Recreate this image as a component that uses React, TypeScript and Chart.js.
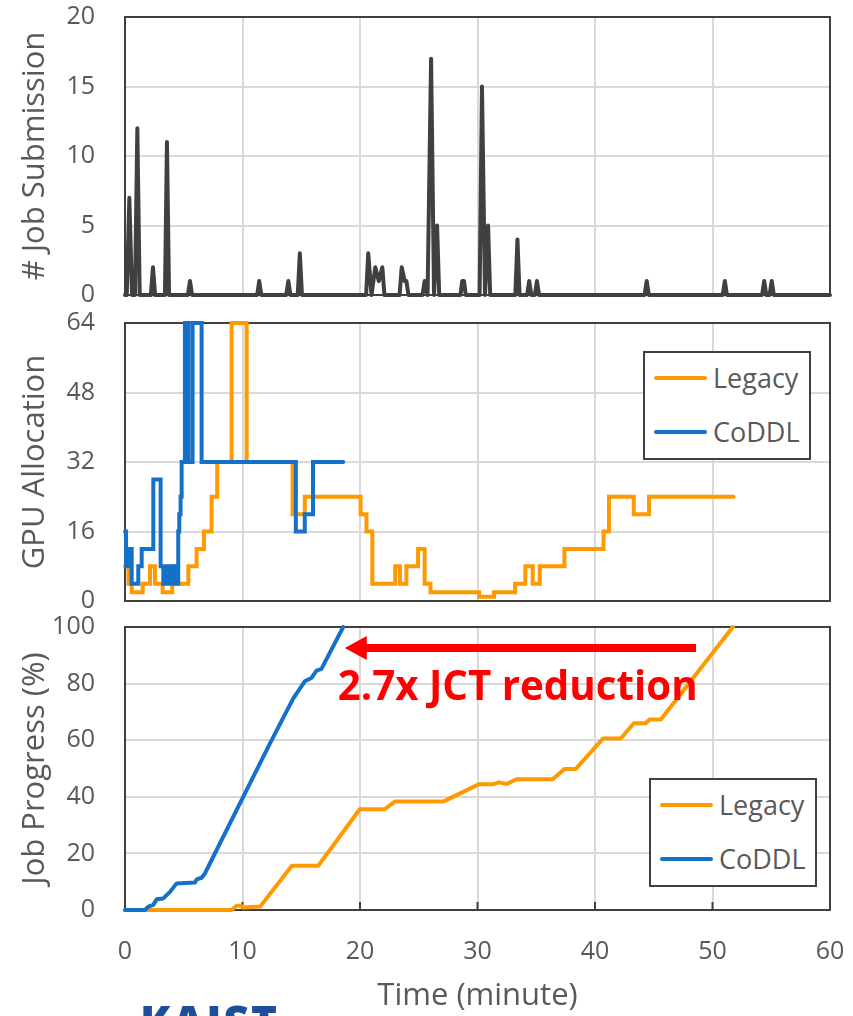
import React, { useEffect, useRef } from "react";
import { Chart, registerables } from "chart.js";

Chart.register(...registerables);

// ---------------- data ----------------
const xMin = 0;
const xMax = 60;
const xStep = 10;

const submissionTime = [
  0, 0.15, 0.37, 0.6, 0.85, 1.05, 1.25, 2.2, 2.38, 2.56, 3.4, 3.57, 3.75, 5.35, 5.53, 5.71,
  11.25, 11.42, 11.6, 13.72, 13.9, 14.08, 14.7, 14.88, 15.06, 20.52, 20.7, 20.98, 21.3, 21.6,
  21.9, 22.08, 23.37, 23.55, 23.8, 23.95, 24.12, 25.32, 25.5, 25.75, 26.05, 26.3, 26.56, 26.74,
  28.55, 28.7, 28.85, 29.0, 30.18, 30.38, 30.64, 30.9, 31.08, 33.22, 33.4, 33.58, 34.22, 34.4,
  34.58, 34.88, 35.06, 35.24, 44.22, 44.4, 44.58, 50.87, 51.05, 51.23, 54.22, 54.4, 54.58,
  54.86, 55.04, 55.22, 60,
];
const submissionCount = [
  0, 0, 7, 0, 0, 12, 0, 0, 2, 0, 0, 11, 0, 0, 1, 0,
  0, 1, 0, 0, 1, 0, 0, 3, 0, 0, 3, 0, 2, 1,
  2, 0, 0, 2, 1, 1, 0, 0, 1, 0, 17, 0, 5, 0,
  0, 1, 1, 0, 0, 15, 0, 5, 0, 0, 4, 0, 0, 1,
  0, 0, 1, 0, 0, 1, 0, 0, 1, 0, 0, 1, 0,
  0, 1, 0, 0,
];

const gpuLegacyTime = [
  0, 0.3, 0.57, 1.5, 2.13, 2.55, 3.2, 4.02, 4.4, 5.39, 6.09, 6.72, 7.37, 7.85, 9.07, 10.35,
  14.26, 15.3, 20.05, 20.55, 21.05, 23.0, 23.4, 23.95, 24.94, 25.5, 26.0, 30.13, 31.4, 33.2,
  34.07, 34.7, 35.3, 37.4, 40.73, 41.19, 43.3, 44.6, 51.8,
];
const gpuLegacyValue = [
  8, 4, 2, 4, 8, 4, 2, 8, 4, 8, 12, 16, 24, 32, 64, 32,
  20, 24, 20, 16, 4, 8, 4, 8, 12, 4, 2, 1, 2, 4,
  8, 4, 8, 12, 16, 24, 20, 24, 24,
];
const gpuCoddlTime = [
  0, 0.09, 0.28, 0.57, 1.13, 1.42, 2.41, 3.03, 3.26, 3.4, 3.55, 3.7, 3.85, 4.0, 4.15, 4.3,
  4.45, 4.53, 4.62, 4.73, 4.82, 5.1, 5.39, 5.75, 6.52, 14.54, 15.3, 16.0, 18.57,
];
const gpuCoddlValue = [
  16, 8, 12, 4, 8, 12, 28, 8, 4, 8, 4, 8, 4, 8, 4, 8,
  4, 16, 20, 24, 32, 64, 32, 64, 32, 16, 20, 32, 32,
];

const progLegacyTime = [
  0, 9.07, 9.5, 9.9, 10.06, 11.5, 14.2, 16.44, 19.98, 22.1, 22.96, 27.07, 30.1, 31.3, 31.8,
  32.5, 33.3, 36.4, 37.4, 38.35, 40.68, 42.2, 43.3, 44.3, 44.64, 45.6, 51.73,
];
const progLegacyValue = [
  0, 0, 1.5, 1.5, 0.9, 1.2, 15.6, 15.6, 35.6, 35.6, 38.3, 38.3, 44.4, 44.4, 45.1,
  44.5, 46.2, 46.2, 49.8, 49.8, 60.6, 60.6, 66.0, 66.0, 67.3, 67.3, 100,
];
const progCoddlTime = [
  0, 1.7, 1.99, 2.41, 2.7, 3.26, 3.83, 4.39, 5.95, 6.1, 6.52, 6.8, 10.06, 12.33, 14.31,
  15.3, 15.87, 16.3, 16.72, 18.57,
];
const progCoddlValue = [
  0, 0, 1.2, 1.8, 3.8, 4.1, 6.4, 9.4, 9.7, 10.8, 11.4, 12.9, 40.0, 58.8, 74.7,
  80.8, 82, 84.6, 85.2, 100,
];

const seriesNames = ["Legacy", "CoDDL"];
const yAxisTitles = ["# Job Submission", "GPU Allocation", "Job Progress (%)"];
const yAxisMax = [20, 64, 100];
const yAxisStep = [5, 16, 20];
const xAxisTitle = "Time (minute)";
const annotationText = "2.7x JCT reduction";
const logoText = "KAIST";

// annotation anchor points in data units
const arrowFrom = { x: 48.6, y: 92.6 };
const arrowTo = { x: 18.7, y: 92.6 };
const textAnchor = { x: 18.1, y: 74.2 };

// ---------------- styles ----------------
const FONT = "'Open Sans', 'Noto Sans', sans-serif";
const TEXT = "#595959";
const GRID = "#d9d9d9";
const FRAME = "#404040";
const CLEAR = "rgba(0,0,0,0)";
const seriesColors = ["#FF9900", "#1570C8"];
const submissionColor = "#404040";
const RED = "#FF0000";
const W = 853;

const xy = (t: number[], v: number[]) => t.map((x, i) => ({ x, y: v[i] }));

const framePlugin = {
  id: "frame",
  beforeDatasetsDraw(chart: any, _a: any, opts: any) {
    const { ctx, chartArea: a, scales } = chart;
    ctx.save();
    ctx.strokeStyle = FRAME;
    ctx.lineWidth = 2;
    ctx.strokeRect(a.left, a.top, a.right - a.left, a.bottom - a.top);
    if (opts && opts.innerTicks) {
      const xs = scales.x;
      for (let v = xMin + xStep; v < xMax; v += xStep) {
        const px = xs.getPixelForValue(v);
        ctx.beginPath();
        ctx.moveTo(px, a.bottom);
        ctx.lineTo(px, a.bottom - 8);
        ctx.stroke();
      }
    }
    ctx.restore();
  },
};

const annotationPlugin = {
  id: "jctAnnotation",
  afterDatasetsDraw(chart: any) {
    const { ctx, scales } = chart;
    const x1 = scales.x.getPixelForValue(arrowFrom.x);
    const x0 = scales.x.getPixelForValue(arrowTo.x);
    const y = scales.y.getPixelForValue(arrowFrom.y);
    const head = 22;
    ctx.save();
    ctx.strokeStyle = RED;
    ctx.fillStyle = RED;
    ctx.lineWidth = 8;
    ctx.beginPath();
    ctx.moveTo(x1, y);
    ctx.lineTo(x0 + head - 2, y);
    ctx.stroke();
    ctx.beginPath();
    ctx.moveTo(x0, y);
    ctx.lineTo(x0 + head, y - 12);
    ctx.lineTo(x0 + head, y + 12);
    ctx.closePath();
    ctx.fill();
    const tx = scales.x.getPixelForValue(textAnchor.x);
    const ty = scales.y.getPixelForValue(textAnchor.y);
    ctx.font = `bold 42px ${FONT}`;
    ctx.textAlign = "left";
    ctx.textBaseline = "alphabetic";
    ctx.fillText(annotationText, tx, ty, 360);
    ctx.restore();
  },
};

type PanelSpec = {
  index: number;
  canvasTop: number;
  canvasH: number;
  chartTop: number;
  chartBottom: number;
  showX: boolean;
  datasets: any[];
  innerTicks?: boolean;
  annotate?: boolean;
};

function buildConfig(p: PanelSpec): any {
  return {
    type: "line",
    data: { datasets: p.datasets },
    plugins: p.annotate ? [framePlugin, annotationPlugin] : [framePlugin],
    options: {
      responsive: false,
      animation: false,
      devicePixelRatio: 1,
      layout: { padding: { top: p.chartTop, right: 23, left: 0, bottom: 0 } },
      plugins: {
        legend: { display: false },
        tooltip: { enabled: false },
        frame: { innerTicks: !!p.innerTicks },
      },
      elements: {
        point: { radius: 0 },
        line: { tension: 0, borderWidth: 4, borderJoinStyle: "round", borderCapStyle: "round" },
      },
      scales: {
        x: {
          type: "linear",
          min: xMin,
          max: xMax,
          border: { display: false },
          grid: { color: GRID, lineWidth: 2, drawTicks: true, tickLength: 27, tickColor: CLEAR },
          ticks: {
            display: p.showX,
            stepSize: xStep,
            padding: 0,
            color: TEXT,
            font: { family: FONT, size: 25 },
          },
          title: {
            display: p.showX,
            text: xAxisTitle,
            color: TEXT,
            font: { family: FONT, size: 31 },
            padding: { top: 0, bottom: 1 },
          },
          afterFit: (s: any) => {
            s.height = p.canvasH - p.chartBottom;
          },
        },
        y: {
          type: "linear",
          min: 0,
          max: yAxisMax[p.index],
          border: { display: false },
          grid: { color: GRID, lineWidth: 2, drawTicks: true, tickLength: 30, tickColor: CLEAR },
          ticks: {
            stepSize: yAxisStep[p.index],
            padding: 0,
            color: TEXT,
            font: { family: FONT, size: 25 },
          },
          title: {
            display: true,
            text: yAxisTitles[p.index],
            color: TEXT,
            font: { family: FONT, size: 31 },
            padding: { top: 17, bottom: 0 },
          },
          afterFit: (s: any) => {
            s.width = 125;
          },
        },
      },
    },
  };
}

function Panel({ spec }: { spec: PanelSpec }) {
  const ref = useRef<HTMLCanvasElement | null>(null);
  useEffect(() => {
    if (!ref.current) return;
    const chart = new Chart(ref.current, buildConfig(spec));
    return () => chart.destroy();
  }, []);
  return (
    <canvas
      ref={ref}
      width={W}
      height={spec.canvasH}
      style={{ position: "absolute", left: 0, top: spec.canvasTop, width: W, height: spec.canvasH }}
    />
  );
}

function HtmlLegend({ left, top }: { left: number; top: number }) {
  const rows = [27, 81];
  return (
    <div
      style={{
        position: "absolute",
        left,
        top,
        width: 168,
        height: 109,
        boxSizing: "border-box",
        border: `2px solid ${FRAME}`,
        background: "#fff",
        fontFamily: FONT,
        fontSize: 27,
        color: TEXT,
      }}
    >
      {seriesNames.map((name, i) => (
        <div
          key={name}
          style={{
            position: "absolute",
            left: 0,
            top: rows[i] - 20 - 2,
            height: 40,
            display: "flex",
            alignItems: "center",
          }}
        >
          <div style={{ width: 53, height: 4, marginLeft: 9, background: seriesColors[i], borderRadius: 2 }} />
          <div style={{ marginLeft: 6, lineHeight: "40px" }}>{name}</div>
        </div>
      ))}
    </div>
  );
}

export default function App() {
  const top: PanelSpec = {
    index: 0,
    canvasTop: 0,
    canvasH: 312,
    chartTop: 17,
    chartBottom: 295,
    showX: false,
    datasets: [
      {
        label: "submissions",
        data: xy(submissionTime, submissionCount),
        borderColor: submissionColor,
        clip: false,
      },
    ],
  };
  const mid: PanelSpec = {
    index: 1,
    canvasTop: 300,
    canvasH: 318,
    chartTop: 23,
    chartBottom: 301,
    showX: false,
    datasets: [
      {
        label: seriesNames[0],
        data: xy(gpuLegacyTime, gpuLegacyValue),
        borderColor: seriesColors[0],
        stepped: true,
        borderJoinStyle: "miter",
        order: 1,
        clip: false,
      },
      {
        label: seriesNames[1],
        data: xy(gpuCoddlTime, gpuCoddlValue),
        borderColor: seriesColors[1],
        stepped: true,
        borderJoinStyle: "miter",
        order: 0,
        clip: false,
      },
    ],
  };
  const bot: PanelSpec = {
    index: 2,
    canvasTop: 607,
    canvasH: 409,
    chartTop: 20,
    chartBottom: 303,
    showX: true,
    innerTicks: true,
    annotate: true,
    datasets: [
      {
        label: seriesNames[0],
        data: xy(progLegacyTime, progLegacyValue),
        borderColor: seriesColors[0],
        order: 1,
        clip: false,
      },
      {
        label: seriesNames[1],
        data: xy(progCoddlTime, progCoddlValue),
        borderColor: seriesColors[1],
        order: 0,
        clip: false,
      },
    ],
  };

  return (
    <div
      style={{
        position: "absolute",
        left: 0,
        top: 0,
        width: W,
        height: 1016,
        overflow: "hidden",
        background: "#fff",
      }}
    >
      <Panel spec={top} />
      <Panel spec={mid} />
      <Panel spec={bot} />
      <HtmlLegend left={643} top={351} />
      <HtmlLegend left={649} top={778} />
      <div
        style={{
          position: "absolute",
          left: 140,
          top: 999,
          fontFamily: FONT,
          fontWeight: 800,
          fontSize: 44,
          lineHeight: "44px",
          letterSpacing: 2,
          color: "#1D4E9B",
        }}
      >
        {logoText}
      </div>
    </div>
  );
}
